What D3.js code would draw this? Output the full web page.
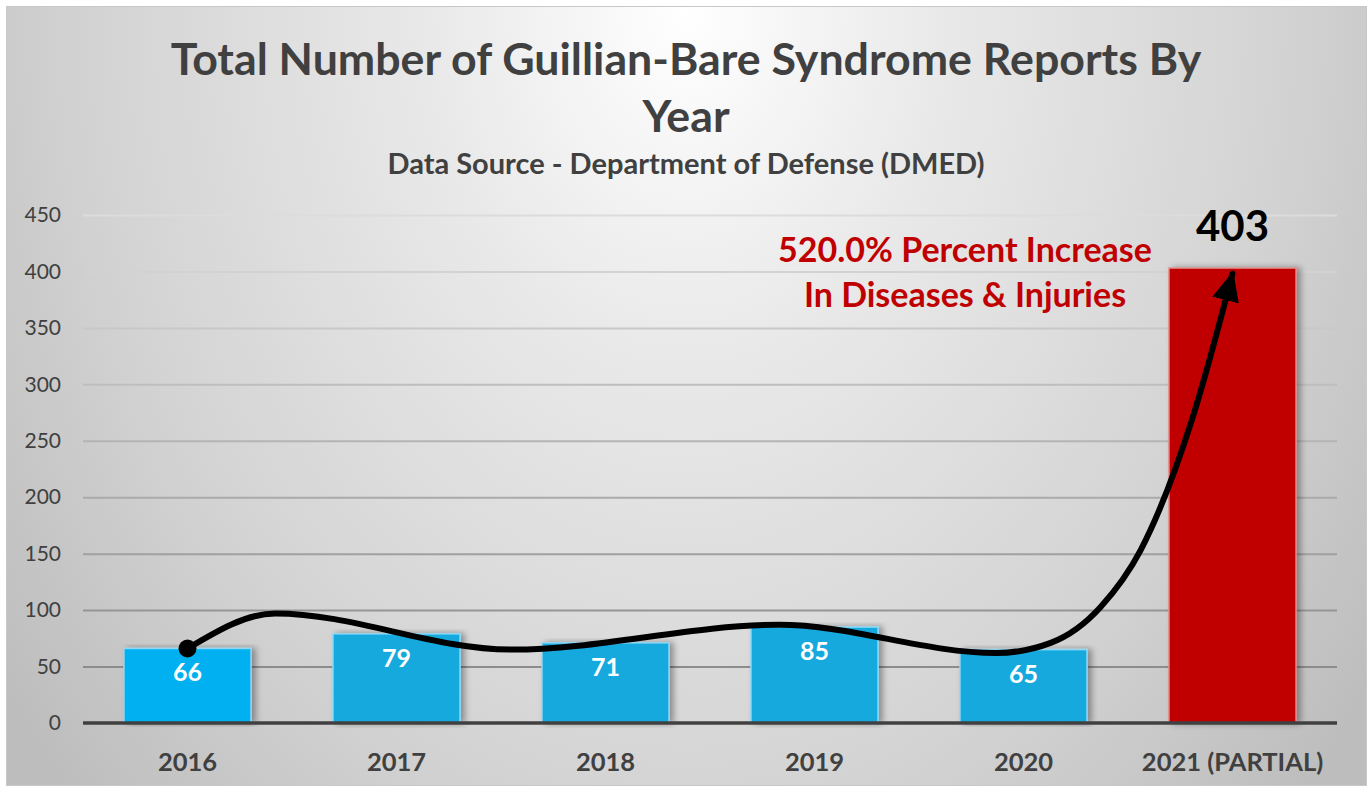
<!DOCTYPE html>
<html>
<head>
<meta charset="utf-8">
<script src="https://cdn.jsdelivr.net/npm/d3@7"></script>
<style>
  html, body { margin: 0; padding: 0; background: #fff; }
  svg text { font-family: Lato, "Open Sans", sans-serif; }
</style>
</head>
<body>
<div id="chart"></div>
<script>
const years = ['2016', '2017', '2018', '2019', '2020', '2021 (PARTIAL)'];
const reports = [66, 79, 71, 85, 65, 403];
const yTicks = [0, 50, 100, 150, 200, 250, 300, 350, 400, 450];
const titleLines = ['Total Number of Guillian-Bare Syndrome Reports By', 'Year'];
const subtitle = 'Data Source - Department of Defense (DMED)';
const calloutLines = ['520.0% Percent Increase', 'In Diseases & Injuries'];
// hand drawn trend arrow, as [category index, value]
const trendIdx = [0, 0.42, 1.55, 2.83, 3.87, 4.13, 4.37, 4.56, 4.81, 5.0];
const trendVal = [66, 97, 65, 87, 62, 71, 103, 153, 271, 398];

const width = 1372;
const height = 791;

const svg = d3.select('#chart').append('svg')
  .attr('width', width)
  .attr('height', height);

const defs = svg.append('defs');

const bg = defs.append('radialGradient')
  .attr('id', 'bg')
  .attr('gradientUnits', 'userSpaceOnUse')
  .attr('cx', 0).attr('cy', 0).attr('r', 1)
  .attr('gradientTransform', 'translate(686,10) scale(850,1150)');
bg.append('stop').attr('offset', 0).attr('stop-color', '#ffffff');
bg.append('stop').attr('offset', 0.3).attr('stop-color', '#e9e9e9');
bg.append('stop').attr('offset', 0.7).attr('stop-color', '#d3d3d3');
bg.append('stop').attr('offset', 1).attr('stop-color', '#bdbdbd');

const shadow = defs.append('filter')
  .attr('id', 'shadow')
  .attr('x', '-20%').attr('y', '-5%')
  .attr('width', '140%').attr('height', '110%');
shadow.append('feDropShadow')
  .attr('dx', 4).attr('dy', 0)
  .attr('stdDeviation', 3)
  .attr('flood-color', '#000')
  .attr('flood-opacity', 0.35);

defs.append('marker')
  .attr('id', 'arrow')
  .attr('markerUnits', 'userSpaceOnUse')
  .attr('viewBox', '0 -10 22 20')
  .attr('refX', 20).attr('refY', 0)
  .attr('markerWidth', 30).attr('markerHeight', 30)
  .attr('orient', 'auto')
  .append('path')
    .attr('d', 'M0,-10L22,0L0,10Z')
    .attr('fill', '#000');

svg.append('rect')
  .attr('x', 6.5).attr('y', 6.5)
  .attr('width', 1360).attr('height', 779)
  .attr('fill', 'url(#bg)')
  .attr('stroke', '#c8c8c8');

const x = d3.scaleBand()
  .domain(years)
  .range([83, 1337])
  .paddingInner(0.392)
  .paddingOuter(0.196);

const y = d3.scaleLinear()
  .domain([0, 450])
  .range([723, 215]);

const idx = d3.scaleLinear()
  .domain([0, years.length - 1])
  .range([x(years[0]) + x.bandwidth() / 2, x(years[years.length - 1]) + x.bandwidth() / 2]);

const gridColor = d3.scaleLinear()
  .domain([450, 50])
  .range(['#dcdcdc', '#8c8c8c']);

// gridlines + y labels
const yAxis = svg.append('g')
  .attr('transform', 'translate(83,0)')
  .call(d3.axisLeft(y).tickValues(yTicks).tickSize(-1254).tickPadding(22));
yAxis.select('.domain').remove();
yAxis.selectAll('.tick line')
  .attr('stroke', d => d === 0 ? 'none' : gridColor(d))
  .attr('stroke-width', 2);
yAxis.selectAll('.tick text')
  .attr('fill', '#404040')
  .style('font-size', '21px');

// bars
svg.append('g').selectAll('rect')
  .data(reports)
  .join('rect')
    .attr('x', (d, i) => x(years[i]))
    .attr('y', d => y(d))
    .attr('width', x.bandwidth())
    .attr('height', d => y(0) - y(d))
    .attr('fill', (d, i) => i === 0 ? '#00b0f0' : (i === years.length - 1 ? '#c00000' : '#17a9de'))
    .attr('stroke', (d, i) => i === years.length - 1 ? '#e08a8a' : '#8fd8f5')
    .attr('stroke-width', 1.5)
    .attr('filter', 'url(#shadow)');

// x axis line
svg.append('line')
  .attr('x1', 83).attr('x2', 1337)
  .attr('y1', y(0)).attr('y2', y(0))
  .attr('stroke', '#404040')
  .attr('stroke-width', 3.5);

// category labels
svg.append('g').selectAll('text')
  .data(years)
  .join('text')
    .attr('x', d => x(d) + x.bandwidth() / 2)
    .attr('y', 771)
    .attr('text-anchor', 'middle')
    .attr('fill', '#404040')
    .style('font-size', '25.5px')
    .style('font-weight', 'bold')
    .text(d => d);

// value labels inside the blue bars
svg.append('g').selectAll('text')
  .data(reports.slice(0, -1))
  .join('text')
    .attr('x', (d, i) => x(years[i]) + x.bandwidth() / 2)
    .attr('y', d => y(d) + 33)
    .attr('text-anchor', 'middle')
    .attr('fill', '#fff')
    .style('font-size', '25px')
    .style('font-weight', 'bold')
    .text(d => d);

// big value over the last bar
const last = years.length - 1;
svg.append('text')
  .attr('x', x(years[last]) + x.bandwidth() / 2)
  .attr('y', y(reports[last]) - 27)
  .attr('text-anchor', 'middle')
  .attr('fill', '#000')
  .style('font-size', '42px')
  .style('font-weight', 'bold')
  .text(reports[last]);

// trend arrow
const trend = d3.line()
  .x(d => idx(d[0]))
  .y(d => y(d[1]))
  .curve(d3.curveMonotoneX);

svg.append('path')
  .datum(d3.zip(trendIdx, trendVal))
  .attr('d', trend)
  .attr('fill', 'none')
  .attr('stroke', '#000')
  .attr('stroke-width', 6)
  .attr('stroke-linecap', 'round')
  .attr('marker-end', 'url(#arrow)');

svg.append('circle')
  .attr('cx', idx(trendIdx[0]))
  .attr('cy', y(trendVal[0]))
  .attr('r', 9)
  .attr('fill', '#000');

// titles
svg.append('g').selectAll('text')
  .data(titleLines)
  .join('text')
    .attr('x', 686)
    .attr('y', (d, i) => 75 + i * 57)
    .attr('text-anchor', 'middle')
    .attr('fill', '#404040')
    .style('font-size', '44.7px')
    .style('font-weight', 'bold')
    .text(d => d);

svg.append('text')
  .attr('x', 686)
  .attr('y', 174)
  .attr('text-anchor', 'middle')
  .attr('fill', '#404040')
  .style('font-size', '29px')
  .style('font-weight', 'bold')
  .text(subtitle);

svg.append('g').selectAll('text')
  .data(calloutLines)
  .join('text')
    .attr('x', 965)
    .attr('y', (d, i) => 262 + i * 45)
    .attr('text-anchor', 'middle')
    .attr('fill', '#c00000')
    .style('font-size', '34px')
    .style('font-weight', 'bold')
    .text(d => d);
</script>
</body>
</html>
